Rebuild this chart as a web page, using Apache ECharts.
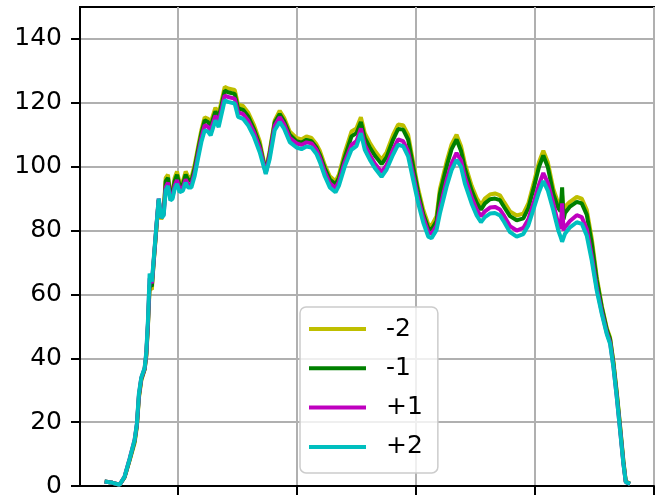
<!DOCTYPE html>
<html>
<head>
<meta charset="utf-8">
<script src="https://cdn.jsdelivr.net/npm/echarts@6/dist/echarts.min.js"></script>
<style>
html,body{margin:0;padding:0;background:#fff;}
#c{width:661px;height:502px;}
</style>
</head>
<body>
<div id="c"></div>
<script>
// x positions (arbitrary units; tick marks at 400..800, no labels shown)
const xs = [338.4,345.1,351.0,355.2,359.4,363.6,365.5,367.2,369.2,372.0,373.4,374.8,376.2,378.1,379.6,381.8,383.8,386.0,388.0,389.7,391.6,393.6,395.5,397.2,399.2,401.4,404.2,406.5,408.4,411.3,414.0,416.8,419.7,422.5,425.2,427.5,431.5,434.2,439.3,442.1,447.7,450.5,454.7,458.9,463.9,468.7,473.8,477.1,481.3,485.5,489.2,493.9,499.6,503.8,508.0,512.2,516.4,519.2,523.4,527.6,532.4,535.2,540.2,545.8,550.0,553.7,557.0,561.2,565.4,571.1,575.3,580.8,585.0,589.2,593.4,597.6,601.9,606.1,610.3,613.1,617.3,620.1,625.7,629.9,634.1,637.8,641.1,646.8,651.0,654.6,657.9,662.2,666.4,670.6,674.2,679.0,684.6,690.2,694.4,699.4,703.4,707.0,710.7,715.4,719.6,721.5,722.8,724.0,725.2,729.4,735.1,739.3,743.5,747.7,751.9,756.1,760.3,763.1,765.9,768.7,771.5,774.3,776.3,779.9];

const seriesNames = ['-2', '-1', '+1', '+2'];

const valsM2 = [1.4,1.0,0.4,2.8,8,13.5,18.5,27.5,33,36.5,40.5,50,62,61.5,70,80,89.5,83.5,86,96.5,97.5,91.5,92,96.5,98.5,95,95.5,98.5,97,96.5,100.5,106,111.5,115.5,115,113.8,118.5,116.5,125,124.5,124,119.5,119,117,113,108,98.6,105,114.5,117.5,115.3,111,109,108.5,109.5,109,107,105,100.5,97,95.4,97.5,104.5,111,112,115.5,110.5,107.5,105,102.2,104.5,110,113.2,113,110,101.5,93,86.5,82,81.5,84.5,93,101.5,107,110,106.5,101,94,90.2,88,90,91.3,91.6,91,88.8,86,84.7,85.3,88.5,95.5,101.5,105,101.5,93,88.5,87.5,91,86,87.5,89,90.5,90,86.5,77.5,65.5,56.5,49.5,46.5,39,29.5,19,8,1.5,0.7];

const valsM1 = [1.4,1.0,0.4,2.8,8.2,14,19,28,33.5,36.5,41,50.5,63,62.5,70,80.5,89.5,84,85.5,95.5,96.5,91,91.5,95.5,97.5,94,94.5,97.5,96,95.5,99.5,105,110.5,114.5,114,112.6,117.3,115.3,123.8,123.3,122.8,118.3,117.8,115.8,111.8,106.8,98.3,104.3,113.8,116.5,114.3,110,108,107.5,108.4,108,106,103.8,99.5,96,94.5,96.5,103,109.5,110.5,114,109,106,103.5,100.8,103,108.5,111.8,111.6,108.5,100.2,91.8,85.2,80.8,80.3,83,91.5,100,105.5,108.5,105,99.5,92.5,88.7,86.5,88.5,89.8,90,89.5,87.3,84.5,83.2,83.8,87,94,100,103.5,100,91.5,87,86,93.5,83.5,85.5,87.5,89,88.5,85,76,64.5,56,49,46,38.5,29,18.5,7.5,1.3,0.7];

const valsP1 = [1.4,1.0,0.4,3,8.5,14.5,19.3,28.5,33.8,36.8,41.5,51,65,63.5,70.5,81,90,84,85,93.5,95,90,90.5,94,95.8,93,93.5,96,94.5,94.5,98,103.5,109,113,112.5,111.3,116,114,122.3,121.8,121.3,117,116.5,114.5,110.7,105.8,98,103.5,112.8,115.5,113.3,109,107.3,106.8,107.6,107.3,105.3,102.8,98.3,94.8,93.3,95.3,101.5,106.8,108,112,106.8,103.7,101,98.3,100.6,105.4,108.5,108,104.8,97.5,90,84,79.5,79,81.6,87,95.7,101,104.3,102,96.7,90.3,86.6,84.5,86,87.2,87.4,86.6,84.5,81.4,80,80.8,83.5,89.4,94.4,98,95,88.5,82,80.5,88.5,80,81,83,84.8,84.2,80.5,72,62,54.5,48,45,37.5,28,17.6,7,1.2,0.7];

const valsP2 = [1.4,1.0,0.4,3,8.5,14.5,19.6,29,34,37,42,52,66.5,64,71,81,90,84,84.7,92.5,94,89.4,90,93,94.6,92,92.5,95,93.5,93.5,97,102.4,107.7,111.4,111,109.8,114.5,112.4,120.8,120.3,119.8,115.6,115,113,109.3,104.5,97.7,102.4,111.4,114,111.9,107.7,106,105.5,106.3,106,104,101.5,97,93.5,92,94,100.1,105.3,106.4,110.5,105.3,102.2,99.6,96.8,99.1,103.8,106.9,106.4,103.2,95.9,88.5,82.5,78.1,77.6,80.2,85.3,93.7,98.9,102.1,100,94.7,88.4,84.7,82.6,84.2,85.3,85.5,84.7,82.6,79.5,78.1,78.9,81.6,87.4,92.1,95.5,92.6,86.3,80,78,76.5,76.8,79,81,82.6,82.1,78.4,70.6,61.2,53.9,47.6,44.5,37.2,27.8,17.4,6.9,1.2,0.7];

const xTicks = [400, 500, 600, 700, 800];
const yTicks = [0, 20, 40, 60, 80, 100, 120, 140];

const colors = ['#bfbf00', '#008000', '#bf00bf', '#00bfbf'];
const allVals = [valsM2, valsM1, valsP1, valsP2];

const chart = echarts.init(document.getElementById('c'), null, {renderer: 'canvas'});
const font = 'DejaVu Sans';

chart.setOption({
  animation: false,
  backgroundColor: '#fff',
  color: colors,
  grid: {left: 80, right: 7, top: 7, bottom: 16, show: true, borderColor: '#000', borderWidth: 2, backgroundColor: 'transparent'},
  xAxis: {
    type: 'value', min: 317.7, max: 800,
    axisLine: {show: true, onZero: false, lineStyle: {color: '#000', width: 2}},
    axisTick: {show: true, length: 9, lineStyle: {color: '#000', width: 2}, customValues: xTicks},
    axisLabel: {show: false, customValues: xTicks},
    splitLine: {show: true, lineStyle: {color: '#b0b0b0', width: 2}}
  },
  yAxis: {
    type: 'value', min: 0, max: 150,
    axisLine: {show: true, lineStyle: {color: '#000', width: 2}},
    axisTick: {show: true, length: 9, lineStyle: {color: '#000', width: 2}, customValues: yTicks},
    axisLabel: {show: true, customValues: yTicks, color: '#000', fontSize: 25, fontFamily: font, margin: 18},
    splitLine: {show: true, lineStyle: {color: '#b0b0b0', width: 2}}
  },
  legend: {
    show: true,
    orient: 'vertical',
    left: 300, top: 307,
    data: seriesNames,
    icon: 'rect',
    itemWidth: 57, itemHeight: 4,
    itemGap: 14.3,
    padding: [9.5, 15, 13.5, 9],
    backgroundColor: 'rgba(255,255,255,0.8)',
    borderColor: '#cccccc',
    borderWidth: 1.5,
    borderRadius: 6,
    textStyle: {fontSize: 25, fontFamily: font, color: '#000', lineHeight: 25, padding: [0, 0, 0, 15]}
  },
  series: seriesNames.map((name, i) => ({
    name: name,
    type: 'line',
    showSymbol: false,
    symbol: 'none',
    data: xs.map((x, j) => [x, allVals[i][j]]),
    lineStyle: {width: 4, color: colors[i]},
    itemStyle: {color: colors[i]},
    z: 2 + i
  }))
});
</script>
</body>
</html>
